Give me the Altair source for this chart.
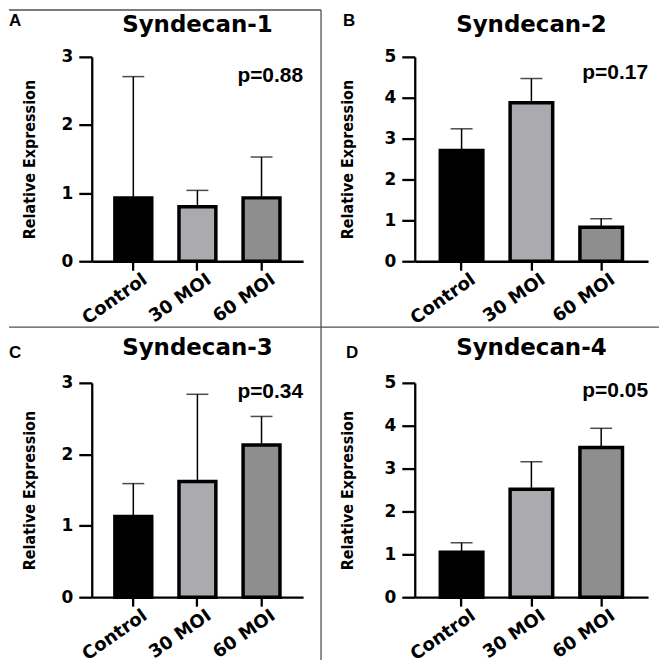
import altair as alt
import pandas as pd

groups = ["Control", "30 MOI", "60 MOI"]
bar_colors = ["#000000", "#ababaf", "#8e8e8e"]

titles = ["Syndecan-1", "Syndecan-2", "Syndecan-3", "Syndecan-4"]
letters = ["A", "B", "C", "D"]
pvalues = ["p=0.88", "p=0.17", "p=0.34", "p=0.05"]
y_max = [3, 5, 3, 5]

syn1_mean = [0.93, 0.80, 0.93]
syn1_upper = [2.71, 1.04, 1.53]
syn2_mean = [2.71, 3.88, 0.83]
syn2_upper = [3.24, 4.47, 1.04]
syn3_mean = [1.13, 1.62, 2.13]
syn3_upper = [1.59, 2.84, 2.53]
syn4_mean = [1.05, 2.52, 3.49]
syn4_upper = [1.27, 3.16, 3.94]

means = [syn1_mean, syn2_mean, syn3_mean, syn4_mean]
uppers = [syn1_upper, syn2_upper, syn3_upper, syn4_upper]

# layout (pixels)
widths = [212, 234, 212, 234]
heights = [205, 205, 215, 215]
pad_inner = [0.425, 0.39, 0.425, 0.39]
pad_outer = [0.361, 0.366, 0.361, 0.366]
letter_x = [-83, -72, -83, -69]
letter_y = [-31, -31, -25, -25]
ytitle_x = [-62, -67, -62, -67]
pval_y = [25, 22, 15, 14]
title_y = [-25, -25, -28, -28]

BOLD_WIDE = "DejaVu Sans"
NARROW = "Liberation Sans Narrow, DejaVu Sans Condensed, sans-serif"
PFONT = "Liberation Sans"


def panel(i):
    w, h = widths[i], heights[i]
    df = pd.DataFrame({"group": groups, "mean": means[i], "upper": uppers[i]})
    xscale = alt.Scale(paddingInner=pad_inner[i], paddingOuter=pad_outer[i])
    yscale = alt.Scale(domain=[0, y_max[i]], nice=False)
    x_axis = alt.Axis(
        title=None, labelAngle=-35, labelAlign="right", labelBaseline="top",
        labelFont=BOLD_WIDE, labelFontSize=18, labelFontWeight="bold",
        labelColor="black", labelPadding=0, labelOffset=7,
        tickSize=9, tickWidth=2.3, tickColor="black",
        domainWidth=2.3, domainColor="black",
    )
    y_axis = alt.Axis(
        values=list(range(y_max[i] + 1)), grid=False,
        title="Relative Expression", titleFont=NARROW, titleFontSize=16,
        titleFontWeight="bold", titleColor="black", titleAngle=270,
        titleX=ytitle_x[i], titleY=h / 2, titleAlign="center", titleBaseline="middle",
        labelFont=BOLD_WIDE, labelFontSize=17, labelFontWeight="bold",
        labelColor="black", labelPadding=6,
        tickSize=13, tickWidth=2.3, tickColor="black",
        domainWidth=2.3, domainColor="black",
    )
    base = alt.Chart(df)
    x_enc = alt.X("group:N", sort=groups, scale=xscale, axis=x_axis)

    err = base.mark_rule(color="black", strokeWidth=1.5).encode(
        x=x_enc,
        y=alt.Y("mean:Q", scale=yscale, axis=y_axis),
        y2="upper:Q",
    )
    bars = base.mark_bar(stroke="black", strokeWidth=3.5).encode(
        x=x_enc,
        y=alt.Y("mean:Q", scale=yscale, axis=y_axis),
        color=alt.Color("group:N", scale=alt.Scale(domain=groups, range=bar_colors), legend=None),
    )
    cap = base.mark_tick(color="black", size=22, thickness=1.5).encode(
        x=x_enc,
        y=alt.Y("upper:Q", scale=yscale, axis=y_axis),
    )
    title = alt.Chart(pd.DataFrame({"t": [titles[i]]})).mark_text(
        font=BOLD_WIDE, fontSize=23, fontWeight="bold", align="center",
        baseline="alphabetic", color="black").encode(
        x=alt.value(w / 2), y=alt.value(title_y[i]), text="t:N")
    pv = alt.Chart(pd.DataFrame({"t": [pvalues[i]]})).mark_text(
        font=PFONT, fontSize=21, fontWeight="bold", align="right",
        baseline="alphabetic", color="black").encode(
        x=alt.value(w), y=alt.value(pval_y[i]), text="t:N")
    lt = alt.Chart(pd.DataFrame({"t": [letters[i]]})).mark_text(
        font=PFONT, fontSize=17, fontWeight="bold", align="left",
        baseline="alphabetic", color="black").encode(
        x=alt.value(letter_x[i]), y=alt.value(letter_y[i]), text="t:N")
    layers = [err, bars, cap, title, pv, lt]
    if i == 0:
        dline = alt.Chart(pd.DataFrame({"d": [0]}))
        vline = dline.mark_rule(color="#505050", strokeWidth=1.3).encode(
            x=alt.value(230), y=alt.value(-47), y2=alt.value(605))
        hline = dline.mark_rule(color="#505050", strokeWidth=1.3).encode(
            x=alt.value(-83), x2=alt.value(569), y=alt.value(271))
        tline = dline.mark_rule(color="#505050", strokeWidth=1.3).encode(
            x=alt.value(-83), x2=alt.value(230), y=alt.value(-47))
        layers += [vline, hline, tline]
    return alt.layer(*layers).properties(width=w, height=h)


chart = alt.concat(
    panel(0), panel(1), panel(2), panel(3),
    columns=2,
    spacing={"row": 122, "column": 112},
).properties(
    align="each", bounds="flush", padding=0,
).configure_view(strokeWidth=0)

chart.save("out.html", embed_options={"renderer": "svg", "actions": False})
